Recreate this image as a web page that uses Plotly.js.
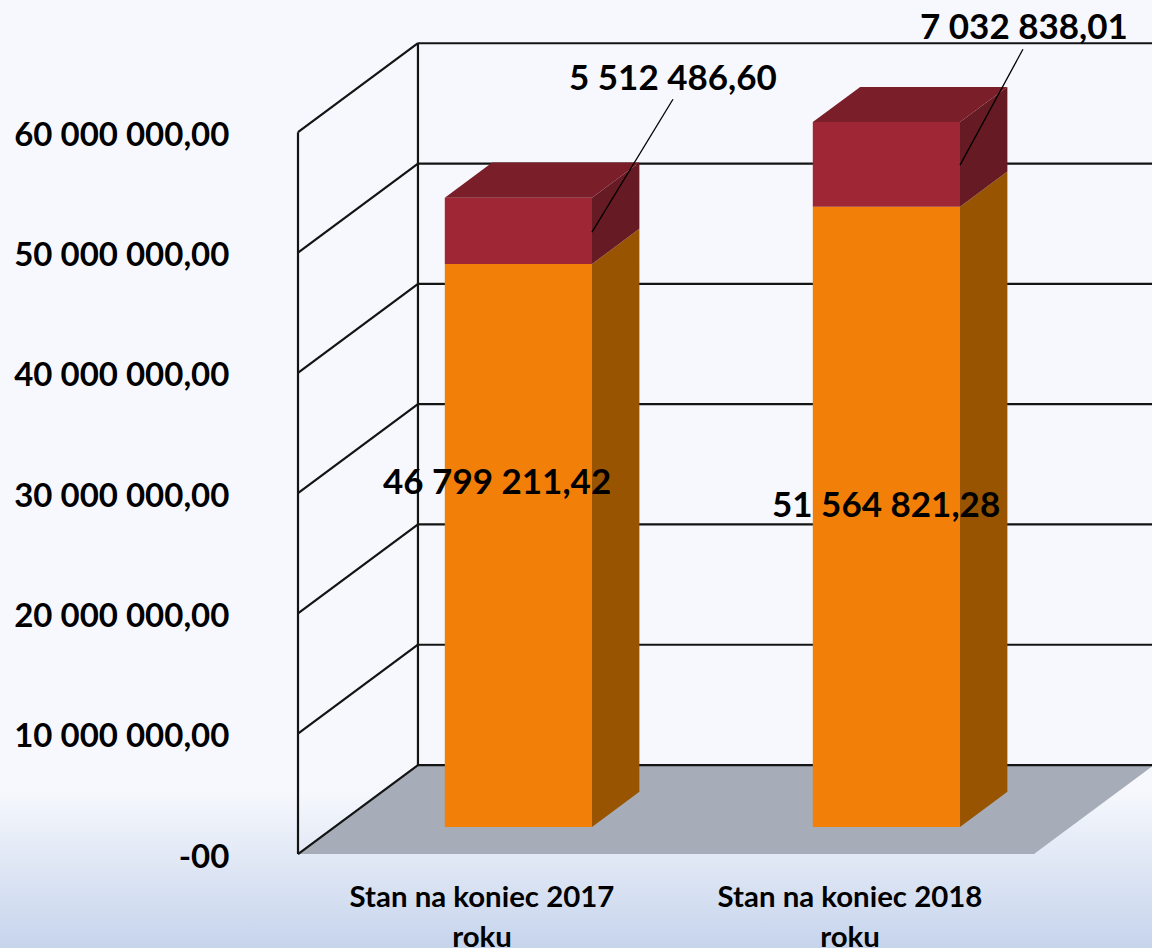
<!DOCTYPE html>
<html>
<head>
<meta charset="utf-8">
<script src="https://cdn.plot.ly/plotly-3.0.1.min.js"></script>
<style>
html,body{margin:0;padding:0;width:1152px;height:948px;overflow:hidden;
background:linear-gradient(to bottom,#f6f8fd 0,#f6f8fd 790px,#c6d4ec 948px);}
#c{width:1152px;height:948px;}
</style>
</head>
<body>
<div id="c"></div>
<script>
// Data
const categories = ["Stan na koniec 2017", "Stan na koniec 2018"];
const categorySuffix = "roku";
const orangeValues = [46799211.42, 51564821.28];
const redValues = [5512486.60, 7032838.01];
const orangeLabels = ["46 799 211,42", "51 564 821,28"];
const redLabels = ["5 512 486,60", "7 032 838,01"];
const tickValues = [0, 10000000, 20000000, 30000000, 40000000, 50000000, 60000000];
const tickLabels = ["-00", "10 000 000,00", "20 000 000,00", "30 000 000,00", "40 000 000,00", "50 000 000,00", "60 000 000,00"];

// Oblique projection of the 3D box (depth 0 = front, 1 = back wall)
const DEPTH_X = 0.326;        // category units per full depth
const DEPTH_Y = 7396000;      // value units per full depth
const BAR_NEAR = 0.3035, BAR_FAR = 0.6985, BAR_W = 0.4;
const X_MIN = -0.5, X_FLOOR_MAX = 1.5;
const px = (i, d) => i + d * DEPTH_X;
const py = (v, d) => v + d * DEPTH_Y;

const ORANGE = "#f28008", ORANGE_SIDE = "#985400", RED = "#9f2735", RED_SIDE = "#661a23", RED_TOP = "#7a1e29";
const FLOOR = "#a6adb9", LINE = "#141414";
const FONT = "Lato, 'Open Sans', sans-serif";

function poly(name, color, pts) {
  return {type: "scatter", mode: "lines", name, x: pts.map(p => p[0]), y: pts.map(p => p[1]),
    fill: "toself", fillcolor: color, line: {width: 0, color}, hoverinfo: "skip", showlegend: false};
}
function face3d(i, v0, v1) { // right side face between two values
  const r = i + BAR_W / 2;
  return [[px(r, BAR_NEAR), py(v0, BAR_NEAR)], [px(r, BAR_FAR), py(v0, BAR_FAR)],
          [px(r, BAR_FAR), py(v1, BAR_FAR)], [px(r, BAR_NEAR), py(v1, BAR_NEAR)], [px(r, BAR_NEAR), py(v0, BAR_NEAR)]];
}
function top3d(i, v) {
  const l = i - BAR_W / 2, r = i + BAR_W / 2;
  return [[px(l, BAR_NEAR), py(v, BAR_NEAR)], [px(r, BAR_NEAR), py(v, BAR_NEAR)],
          [px(r, BAR_FAR), py(v, BAR_FAR)], [px(l, BAR_FAR), py(v, BAR_FAR)], [px(l, BAR_NEAR), py(v, BAR_NEAR)]];
}

const idx = categories.map((_, i) => i);
const barX = idx.map(i => px(i, BAR_NEAR));
const base0 = py(0, BAR_NEAR);
const traces = [
  {type: "bar", name: "orange", x: barX, y: orangeValues, base: idx.map(() => base0), width: BAR_W,
   marker: {color: ORANGE, line: {width: 0}}, hoverinfo: "skip", showlegend: false},
  {type: "bar", name: "red", x: barX, y: redValues, base: idx.map(i => base0 + orangeValues[i]), width: BAR_W,
   marker: {color: RED, line: {width: 0}}, hoverinfo: "skip", showlegend: false}
];
idx.forEach(i => {
  const a = orangeValues[i], b = a + redValues[i];
  traces.push(poly("orange side", ORANGE_SIDE, face3d(i, 0, a)));
  traces.push(poly("red side", RED_SIDE, face3d(i, a, b)));
  traces.push(poly("red top", RED_TOP, top3d(i, b)));
});

// Leader lines from the red labels to the bars
const redLabelPos = [[0.52, 64670000], [1.4728, 68950000]];
const redLeaderStart = [[0.519, 62740000], [1.47, 66900000]];
const redLeaderEnd = [[0.2989, 51690000], [1.299, 57260000]];
idx.forEach(i => traces.push({type: "scatter", mode: "lines", name: "leader",
  x: [redLeaderStart[i][0], redLeaderEnd[i][0]], y: [redLeaderStart[i][1], redLeaderEnd[i][1]],
  line: {color: "#000", width: 1.3}, hoverinfo: "skip", showlegend: false}));

// Wall + floor as shapes, under the bars
const shapes = [];
const ln = (x0, y0, x1, y1) => shapes.push({type: "line", layer: "below", xref: "x", yref: "y",
  x0, y0, x1, y1, line: {color: LINE, width: 2.2}});
const fx0 = X_MIN, fx1 = X_FLOOR_MAX;
shapes.push({type: "path", layer: "below", xref: "x", yref: "y", fillcolor: FLOOR, line: {width: 0},
  path: `M${px(fx0,0)},${py(0,0)} L${px(fx0,1)},${py(0,1)} L${px(fx1,1)},${py(0,1)} L${px(fx1,0)},${py(0,0)} Z`});
tickValues.forEach(v => {
  ln(px(fx0, 0), py(v, 0), px(fx0, 1), py(v, 1));
  ln(px(fx0, 1), py(v, 1), px(fx1, 1) + 0.1, py(v, 1));
});
const vMax = tickValues[tickValues.length - 1];
ln(px(fx0, 0), 0, px(fx0, 0), vMax);
ln(px(fx0, 1), py(0, 1), px(fx0, 1), py(vMax, 1));

const orangeLabelPos = [[0.0408, 31070000], [1.0978, 29170000]];
const ann = idx.map(i => ({xref: "x", yref: "y", x: orangeLabelPos[i][0], y: orangeLabelPos[i][1],
  text: orangeLabels[i], showarrow: false, xanchor: "center", yanchor: "middle",
  font: {family: FONT, size: 35, color: "#000", weight: 700}}))
 .concat(idx.map(i => ({xref: "x", yref: "y", x: redLabelPos[i][0], y: redLabelPos[i][1],
  text: redLabels[i], showarrow: false, xanchor: "center", yanchor: "middle",
  font: {family: FONT, size: 35, color: "#000", weight: 700}})));

const layout = {
  width: 1152, height: 948,
  margin: {l: 240, r: 0, t: 0, b: 73, pad: 0},
  paper_bgcolor: "rgba(0,0,0,0)", plot_bgcolor: "rgba(0,0,0,0)",
  barmode: "overlay", showlegend: false, font: {family: FONT, color: "#000"},
  xaxis: {type: "linear", range: [-0.6576, 1.8207], tickmode: "array", tickvals: idx,
    ticktext: categories.map(c => `<span style="font-size:29.4px">${c}</span><br><span style="font-size:29.4px">${categorySuffix}</span>`),
    ticklen: 0, showgrid: false, zeroline: false, showline: false,
    tickangle: 0, tickfont: {family: FONT, size: 31, color: "#000", weight: 700}},
  yaxis: {type: "linear", range: [-1745000, 70990000], tickmode: "array", tickvals: tickValues, ticktext: tickLabels,
    ticklen: 3, tickcolor: "rgba(0,0,0,0)", showgrid: false, zeroline: false, showline: false, ticklabelshift: 2,
    tickfont: {family: FONT, size: 33, color: "#000", weight: 700}},
  shapes, annotations: ann
};
Plotly.newPlot("c", traces, layout, {displayModeBar: false, staticPlot: true});
</script>
</body>
</html>
